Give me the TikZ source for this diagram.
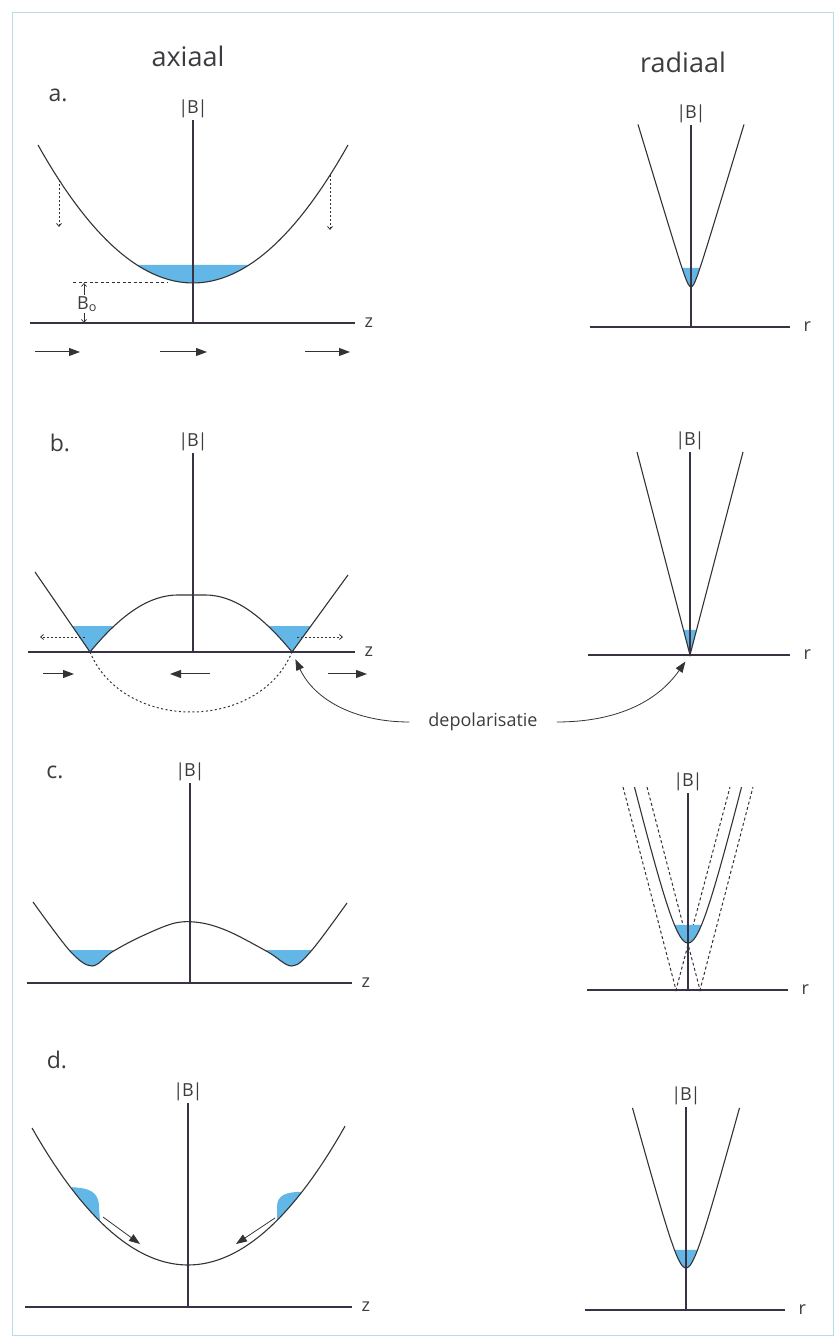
\documentclass[tikz,border=0pt]{standalone}
\usepackage{fontspec}
\setmainfont{Open Sans}
\usetikzlibrary{arrows.meta}

\definecolor{ink}{HTML}{333336}
\definecolor{axisc}{HTML}{3A3244}
\definecolor{wellblue}{HTML}{62B7E6}
\definecolor{framec}{HTML}{B8DBEA}
\definecolor{txt}{HTML}{3C3C40}

\newcommand{\absB}{|\kern-1.2pt B\kern-1.2pt|}

\begin{document}
\begin{tikzpicture}[
    x=1pt, y=1pt,
    curve/.style={draw=ink, line width=1.1pt},
    axis/.style={draw=axisc, line width=1.1pt},
    well/.style={fill=wellblue},
    ghost/.style={draw=ink, line width=1pt, dash pattern=on 3pt off 2.5pt},
    hint/.style={draw=ink, line width=0.8pt, dash pattern=on 2pt off 2pt, -{Straight Barb[length=3pt, width=5pt]}},
    dim/.style={draw=ink, line width=0.7pt, -{Straight Barb[length=3pt, width=5pt]}},
    flow/.style={draw=ink, line width=1pt, -{Triangle[length=11pt, width=8pt]}},
    link/.style={draw=ink, line width=0.8pt, -{Triangle[length=11pt, width=8pt]}, shorten >=8pt},
    lbl/.style={text=txt, font=\fontsize{18}{21}\selectfont, inner sep=1pt},
    tag/.style={text=txt, font=\fontsize{23}{27}\selectfont},
    head/.style={text=txt, font=\fontsize{27}{32}\selectfont},
]

\useasboundingbox (0,0) rectangle (838,1338);
\draw[framec, line width=1pt] (12,2) rectangle (833,1325);

% Column headers
\node[head] (hax) at (188,1282) {axiaal};
\node[head] (hrad) at (683,1276) {radiaal};

% a. axial: single well
\begin{scope}[shift={(193,1015)}]
  \node[tag] (ta) at (-135,228) {a.};
  \fill[well] plot[domain=-56:56] (\x,{40+57.44*(\x/100)^2}) -- cycle;
  \draw[axis] (-163,0) -- (162,0) node[lbl, right=8pt] (za) {z};
  \draw[axis] (0,0) -- (0,203) node[lbl, above=1pt] (Ba) {\absB};
  \draw[curve] plot[domain=-155:155, samples=60] (\x,{40+57.44*(\x/100)^2});
  % B0 level
  \draw[ghost] (-120,40) -- (-26,40);
  \node[lbl] (b0) at (-106,19) {B\textsubscript{o}};
  \coordinate (b0t) at (-109,40);
  \coordinate (b0b) at (-109,0);
  \draw[dim] (b0.north -| b0t) -- (b0t);
  \draw[dim] (b0.south -| b0b) -- (b0b);
  % field lowered
  \coordinate (hl) at (-134,143); \coordinate (hle) at (-134,96);
  \coordinate (hr) at (137,148); \coordinate (hre) at (137,93);
  \draw[hint] (hl) -- (hle);
  \draw[hint] (hr) -- (hre);
  \foreach \s/\e [count=\i] in {-158/-113, -33/14, 112/157} {
    \coordinate (fa\i s) at (\s,-29); \coordinate (fa\i e) at (\e,-29);
    \draw[flow] (fa\i s) -- (fa\i e);
  }
\end{scope}

% a. radial
\begin{scope}[shift={(691,1011)}]
  \fill[well] plot[domain=-9:9] (\x,{40+3.32*(sqrt(\x*\x+17.64)-4.2)}) -- cycle;
  \draw[axis] (-101,0) -- (99,0) node[lbl, right=12pt] (ra) {r};
  \draw[axis] (0,0) -- (0,202) node[lbl, above=1pt] (Bra) {\absB};
  \draw[curve] plot[domain=-53:53, samples=60] (\x,{40+3.32*(sqrt(\x*\x+17.64)-4.2)});
\end{scope}

% b. axial: field reversed in the middle
\begin{scope}[shift={(193,686)}]
  \node[tag] (tb) at (-133,209) {b.};
  \begin{scope}
    \clip (-170,0) rectangle (170,25);
    \fill[well] (-158,80) -- (-103,0) .. controls (-70,40) and (-42,57) .. (-15,57) -- (12,57)
      .. controls (39,57) and (66,40) .. (99,0) -- (155,77) -- cycle;
  \end{scope}
  \draw[axis] (-165,0) -- (162,0) node[lbl, right=8pt] (zb) {z};
  \draw[axis] (0,0) -- (0,199) node[lbl, above=1pt] (Bb) {\absB};
  \draw[curve] (-158,80) -- (-103,0) .. controls (-70,40) and (-42,57) .. (-15,57) -- (12,57)
    .. controls (39,57) and (66,40) .. (99,0) -- (155,77);
  \coordinate (cuspL) at (-103,0);
  \coordinate (cuspR) at (99,0);
  \draw[ghost, dash pattern=on 2pt off 2.5pt] (cuspL) .. controls (-70,-80) and (66,-80) .. (cuspR);
  \coordinate (hbl) at (-108,15); \coordinate (hble) at (-153,15);
  \coordinate (hbr) at (104,15); \coordinate (hbre) at (150,15);
  \draw[hint] (hbl) -- (hble);
  \draw[hint] (hbr) -- (hbre);
  \foreach \s/\e [count=\i] in {-150/-119, 17/-23, 135/174} {
    \coordinate (fb\i s) at (\s,-22); \coordinate (fb\i e) at (\e,-22);
    \draw[flow] (fb\i s) -- (fb\i e);
  }
\end{scope}

% b. radial
\begin{scope}[shift={(690,683)}]
  \coordinate (rb) at (0,0);
  \fill[well] (-6.5,25) -- (0,0) -- (6.5,25) -- cycle;
  \draw[axis] (-102,0) -- (100,0) node[lbl, right=12pt] (rbl) {r};
  \draw[axis] (0,0) -- (0,203) node[lbl, above=1pt] (Brb) {\absB};
  \draw[curve] (-53,203) -- (0,0) -- (53,203);
\end{scope}

% depolarisation
\node[lbl, font=\fontsize{18}{21}\selectfont, inner xsep=19pt] (depol) at (483,616) {depolarisatie};
\draw[link] (depol.west) to[out=180, in=-65] (cuspR);
\draw[link] (depol.east) to[out=0, in=-125] (rb);

% c. axial: two wells
\begin{scope}[shift={(190,355)}]
  \node[tag] (tc) at (-135,211) {c.};
  \begin{scope}
    \clip (-170,0) rectangle (170,32);
    \fill[well] plot[smooth, tension=0.55] coordinates {(-157,81) (-120,32) (-98,17) (-78,31) (-50,46) (-15,60)
      (12,60) (40,51) (78,31) (102,17) (122,33) (157,80)} -- cycle;
  \end{scope}
  \draw[axis] (-163,0) -- (162,0) node[lbl, right=8pt] (zc) {z};
  \draw[axis] (0,0) -- (0,200) node[lbl, above=1pt] (Bc) {\absB};
  \draw[curve] plot[smooth, tension=0.55] coordinates {(-157,81) (-120,32) (-98,17) (-78,31) (-50,46) (-15,60)
    (12,60) (40,51) (78,31) (102,17) (122,33) (157,80)};
\end{scope}

% c. radial
\begin{scope}[shift={(688,348)}]
  \draw[ghost] (-65,203) -- (-12,0) -- (42,203);
  \draw[ghost] (-41,203) -- (12,0) -- (65,203);
  \fill[well] plot[domain=-13.5:13.5] (\x,{47+4.09*(sqrt(\x*\x+342.25)-18.5)}) -- cycle;
  \draw[axis] (-101,0) -- (100,0) node[lbl, right=12pt] (rc) {r};
  \draw[axis] (0,0) -- (0,197) node[lbl, above=1pt] (Brc) {\absB};
  \draw[curve] plot[domain=-53.5:53.5, samples=60] (\x,{47+4.09*(sqrt(\x*\x+342.25)-18.5)});
\end{scope}

% d. axial: relaxing into one well
\begin{scope}[shift={(188,31)}]
  \node[tag] (td) at (-131,247) {d.};
  \fill[well] plot[domain=-116:-88] (\x,{42+56.3*(\x/100)^2}) -- (-89,100)
    .. controls (-89,116) and (-100,119) .. (-116,119.8) -- cycle;
  \fill[well] plot[domain=114:89] (\x,{42+56.3*(\x/100)^2}) -- (89,100)
    .. controls (89,112) and (98,115) .. (114,115.2) -- cycle;
  \draw[axis] (-163,0) -- (164,0) node[lbl, right=8pt] (zd) {z};
  \draw[axis] (0,0) -- (0,204) node[lbl, above=1pt] (Bd) {\absB};
  \draw[curve] plot[domain=-156:157, samples=60] (\x,{42+56.3*(\x/100)^2});
  \coordinate (dl) at (-85,90); \coordinate (dle) at (-48,63);
  \coordinate (dr) at (87,89); \coordinate (dre) at (48,63);
  \draw[flow, line width=0.8pt] (dl) -- (dle);
  \draw[flow, line width=0.8pt] (dr) -- (dre);
\end{scope}

% d. radial
\begin{scope}[shift={(686,28)}]
  \fill[well] plot[domain=-11.5:11.5] (\x,{42+3.67*(sqrt(\x*\x+121)-11)}) -- cycle;
  \draw[axis] (-101,0) -- (99,0) node[lbl, right=12pt] (rd) {r};
  \draw[axis] (0,0) -- (0,203) node[lbl, above=1pt] (Brd) {\absB};
  \draw[curve] plot[domain=-53.5:53.5, samples=60] (\x,{42+3.67*(sqrt(\x*\x+121)-11)});
\end{scope}

\end{tikzpicture}
\end{document}
